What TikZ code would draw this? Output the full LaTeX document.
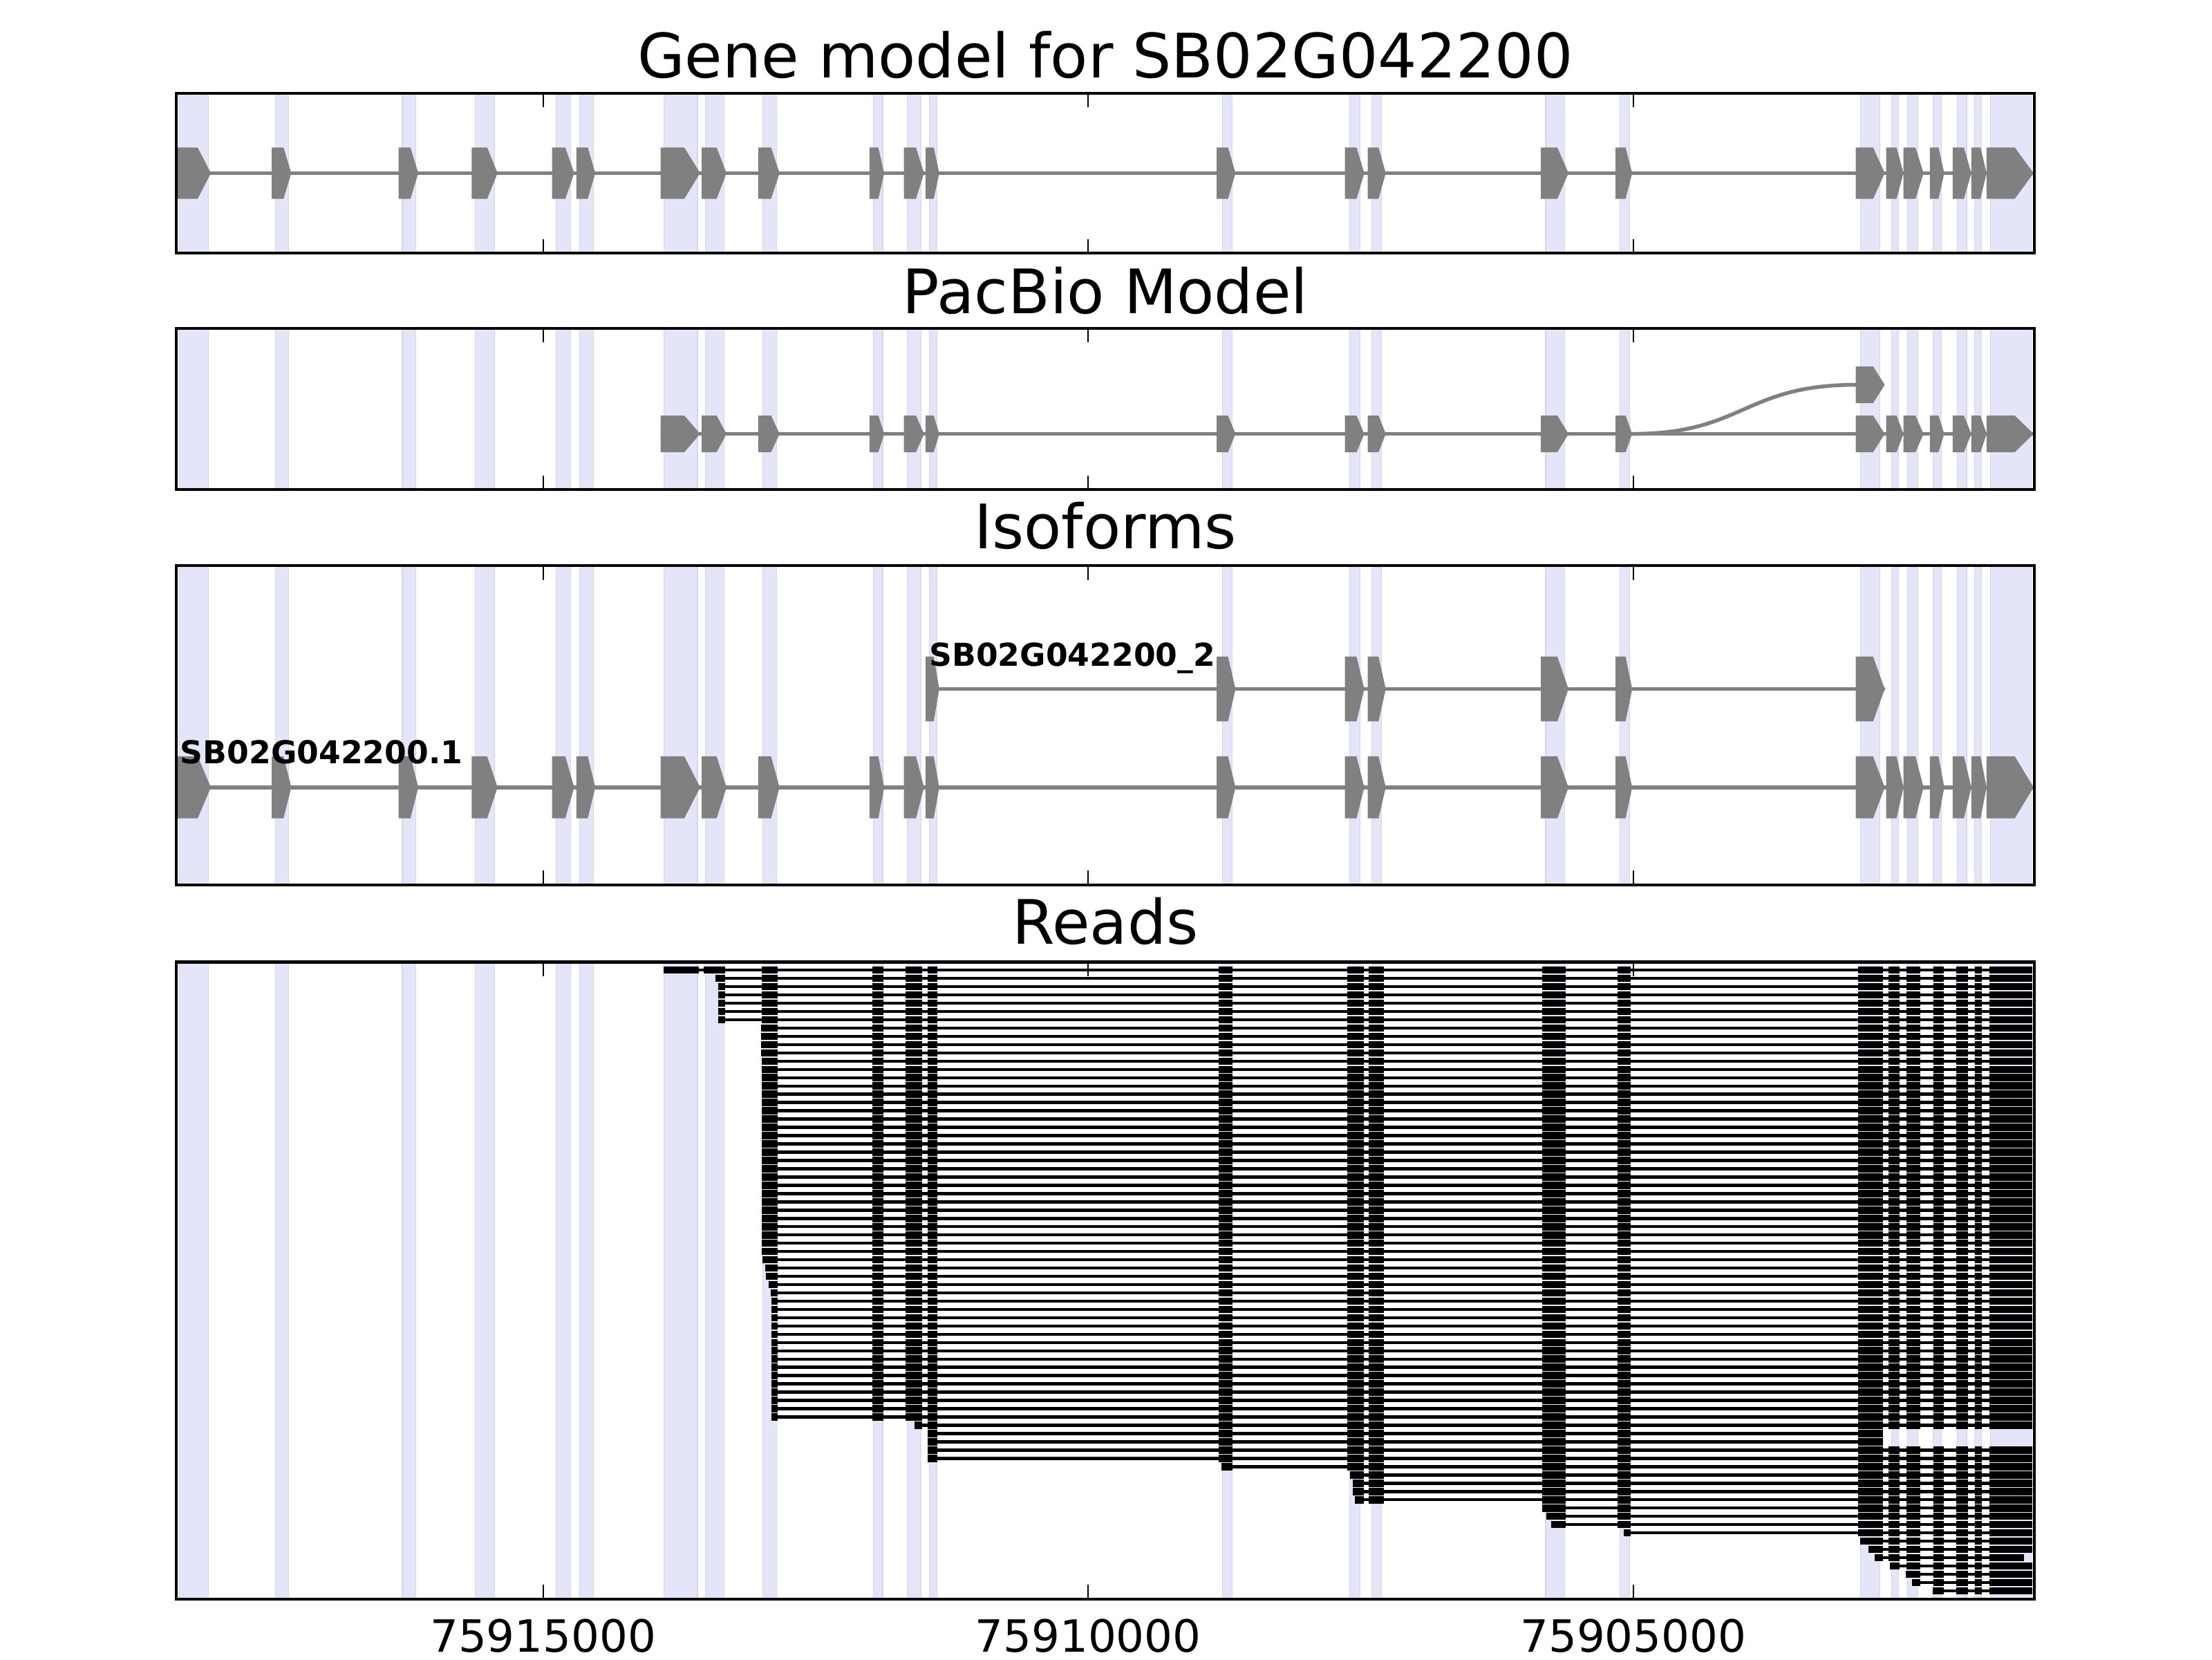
\documentclass[tikz,border=0pt]{standalone}
\usepackage{fontspec}
\setmainfont{DejaVu Sans}
\definecolor{bandc}{RGB}{229,229,250}
\definecolor{bandedge}{RGB}{214,214,234}
\definecolor{exgray}{RGB}{128,128,128}
\tikzset{
  band/.style={fill=bandc,draw=bandedge,line width=0.4pt},
  frame/.style={draw=black,line width=1.6pt},
  tickmark/.style={draw=black,line width=0.8pt},
  intron/.style={draw=exgray,line width=1.9pt},
  titletext/.style={font=\fontsize{30.9}{36}\selectfont,anchor=base},
  ticklabel/.style={font=\fontsize{22.4}{26}\selectfont,anchor=base},
  isolabel/.style={font=\bfseries\fontsize{15.9}{19}\selectfont,anchor=base west,inner sep=0pt},
  readc/.style={fill=black},
}
\def\bandlist{127/147.6, 195.2/204.6, 285.2/294.6, 337/350.8, 394/404.4, 410.8/420.6, 470.8/494.4, 500/513.2, 540.6/550.7, 618.9/625.7, 643.3/653, 658.7/664.3, 866.5/873.3, 956.7/964.1, 972.5/979.3, 1095.6/1108.9, 1148.1/1155, 1318.9/1332.6, 1341/1345.9, 1352.2/1359.6, 1370.4/1376.3, 1387.6/1394, 1399.8/1404.7, 1411.1/1440}
\def\allexons{126/149.5, 192.6/206.5, 282.6/296.5, 334.3/352.7, 391.3/407, 408.6/422, 468.2/496.3, 497.4/515, 537.5/552.6, 616.3/626.8, 640.7/655, 656/665.8, 862.5/875.8, 953.3/967.1, 969.5/982.3, 1092.2/1111.8, 1145.2/1157, 1315.4/1336, 1337/1349.3, 1349.3/1363.5, 1368/1378.2, 1384.2/1397.4, 1397.4/1408.2, 1408.2/1441.5}
\def\pacexons{468.2/496.3, 497.4/515, 537.5/552.6, 616.3/626.8, 640.7/655, 656/665.8, 862.5/875.8, 953.3/967.1, 969.5/982.3, 1092.2/1111.8, 1145.2/1157, 1315.4/1336, 1337/1349.3, 1349.3/1363.5, 1368/1378.2, 1384.2/1397.4, 1397.4/1408.2, 1408.2/1441.5}
\def\isotwoexons{656/665.8, 862.5/875.8, 953.3/967.1, 969.5/982.3, 1092.2/1111.8, 1145.2/1157, 1315.4/1336}
\def\rexL{{470.6,498.7,539.8,618.2,642,657.5,863.9,954.8,970,1093.4,1146.8,1317.3,1338.5,1351.6,1370.4,1386.7,1399.8,1410.4}}
\def\rexR{{495.4,514,551.3,626.3,653.8,664.3,873.9,966.6,981,1110,1156,1334.8,1346.7,1361.4,1377.8,1394.9,1404.7,1440.7}}
\newcommand\gexon[4]{\fill[exgray] (#1,{#3-#4/2}) -- ({#2-0.4*(#2-#1)},{#3-#4/2}) -- (#2,#3) -- ({#2-0.4*(#2-#1)},{#3+#4/2}) -- (#1,{#3+#4/2}) -- cycle;}
\newcommand\panelbands[2]{\foreach \a/\b in \bandlist {\filldraw[band] (\a,#1) rectangle (\b,#2);}}
\newcommand\panelframe[2]{\draw[frame] (125,#1) rectangle (1442,#2);
  \foreach \t in {385,771.3,1157.8}{\draw[tickmark] (\t,#1) -- (\t,{#1+10}); \draw[tickmark] (\t,#2) -- (\t,{#2-10});}}
\newcommand\readrow[5]{%
  \pgfmathsetmacro\ry{687.55+5.865*#1}%
  \fill[readc] ({#3},{\ry-1.1}) rectangle ({#5},{\ry+1.1});
  \foreach \i in {#2,...,#4}{%
    \pgfmathsetmacro\xa{\rexL[\i]}%
    \ifnum\i=#2 \def\xa{#3}\fi
    \pgfmathsetmacro\xb{\rexR[\i]}%
    \ifnum\i=#4 \def\xb{#5}\fi
    \fill[readc] (\xa,{\ry-2.6}) rectangle (\xb,{\ry+2.6});
  }%
}
\begin{document}
\begin{tikzpicture}[x=0.25mm,y=-0.25mm]
\useasboundingbox[fill=white] (0,0) rectangle (1568,1176);
% ---------- Panel 1: gene model
\node[titletext] (t1) at (783.5,55) {Gene model for SB02G042200};
\panelbands{66.1}{179.3}
\draw[intron] (126,122.7) -- (1441.5,122.7);
\foreach \a/\b in \allexons {\gexon{\a}{\b}{122.7}{36.4}}
\panelframe{66.1}{179.3}
% ---------- Panel 2: PacBio model
\node[titletext] (t2) at (783.5,222) {PacBio Model};
\panelbands{232.7}{347}
\draw[intron] (468.2,307.5) -- (1441.5,307.5);
\draw[intron] (1157,307.5) .. controls (1236,307.5) and (1236,272.7) .. (1316,272.7);
\foreach \a/\b in \pacexons {\gexon{\a}{\b}{307.5}{26}}
\gexon{1315.4}{1336}{272.7}{26}
\panelframe{232.7}{347}
% ---------- Panel 3: isoforms
\node[titletext] (t3) at (783.5,389) {Isoforms};
\panelbands{400.9}{627.1}
\draw[intron] (126,558) -- (1441.5,558);
\foreach \a/\b in \allexons {\gexon{\a}{\b}{558}{44}}
\draw[intron] (656,488.3) -- (1336,488.3);
\foreach \a/\b in \isotwoexons {\gexon{\a}{\b}{488.3}{46}}
\node[isolabel] (iso1) at (127.6,541.4) {SB02G042200.1};
\node[isolabel] (iso2) at (658.5,472) {SB02G042200\_2};
\panelframe{400.9}{627.1}
% ---------- Panel 4: reads
\node[titletext] (t4) at (783.5,669) {Reads};
\panelbands{681.9}{1133.3}
\readrow{0}{0}{470.6}{17}{1440.7}
\readrow{1}{1}{507}{17}{1440.7}
\foreach \k in {2,...,6}{\readrow{\k}{1}{509}{17}{1440.7}}
\foreach \k in {7,...,10}{\readrow{\k}{2}{539.5}{17}{1440.7}}
\foreach \k in {11,...,34}{\readrow{\k}{2}{540.1}{17}{1440.7}}
\readrow{35}{2}{540.6}{17}{1440.7}
\readrow{36}{2}{542.5}{17}{1440.7}
\readrow{37}{2}{543}{17}{1440.7}
\readrow{38}{2}{545}{17}{1440.7}
\readrow{39}{2}{546.3}{17}{1440.7}
\foreach \k in {40,...,54}{\readrow{\k}{2}{546.8}{17}{1440.7}}
\readrow{55}{4}{648.3}{17}{1440.7}
\readrow{56}{5}{657.5}{11}{1334.8}
\readrow{57}{5}{657.5}{11}{1334.8}
\readrow{58}{5}{657.5}{17}{1440.7}
\readrow{59}{5}{657.5}{17}{1440.7}
\readrow{60}{6}{866}{17}{1440.7}
\readrow{61}{7}{957}{17}{1440.7}
\readrow{62}{7}{958.7}{17}{1440.7}
\readrow{63}{7}{958.7}{17}{1440.7}
\readrow{64}{7}{960.5}{17}{1440.7}
\readrow{65}{9}{1093.4}{17}{1440.7}
\readrow{66}{9}{1096}{17}{1440.7}
\readrow{67}{9}{1099.6}{17}{1440.7}
\readrow{68}{10}{1151}{17}{1440.7}
\readrow{69}{11}{1318.6}{17}{1440.7}
\readrow{70}{11}{1324.6}{17}{1440.7}
\readrow{71}{11}{1328.7}{17}{1434.6}
\readrow{72}{12}{1339.8}{17}{1440.7}
\readrow{73}{13}{1351}{17}{1440.7}
\readrow{74}{13}{1355.5}{17}{1440.7}
\readrow{75}{14}{1369.8}{17}{1440.7}
\panelframe{681.9}{1133.3}
% ---------- axis labels
\node[ticklabel] (x1) at (385,1171) {75915000};
\node[ticklabel] (x2) at (771.3,1171) {75910000};
\node[ticklabel] (x3) at (1157.8,1171) {75905000};
\end{tikzpicture}
\end{document}
